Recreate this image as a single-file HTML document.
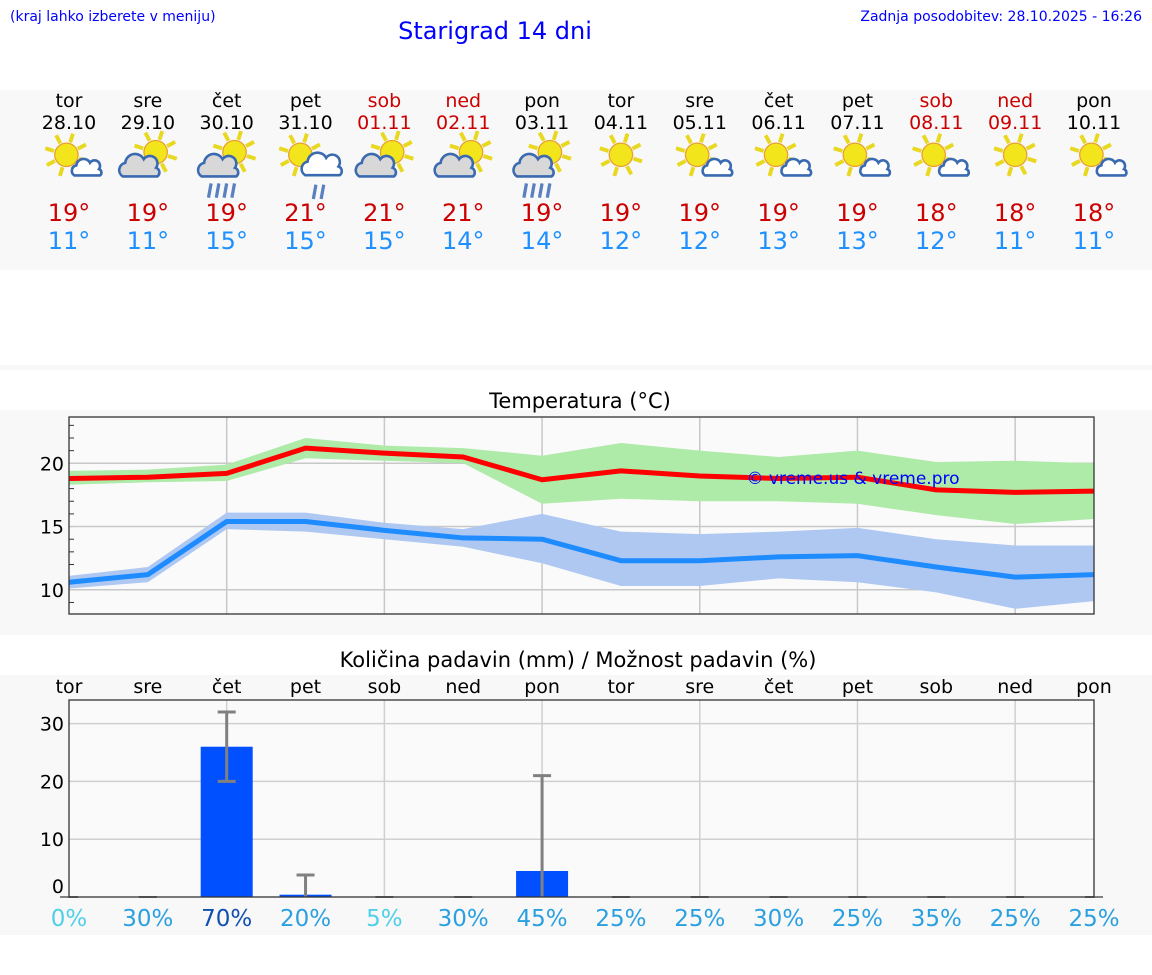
<!DOCTYPE html>
<html><head><meta charset="utf-8"><style>
body{margin:0;background:#fff;width:1152px;height:975px;overflow:hidden;font-family:"DejaVu Sans","Liberation Sans",sans-serif}
svg{display:block}
</style></head><body>
<svg id="s" width="1152" height="975" xmlns="http://www.w3.org/2000/svg" font-family="DejaVu Sans, Liberation Sans, sans-serif">
<rect x="0" y="90" width="1152" height="180" fill="#f8f8f8"/>
<rect x="0" y="365" width="1152" height="5" fill="#f8f8f8"/>
<rect x="0" y="410" width="1152" height="225" fill="#f8f8f8"/>
<rect x="0" y="675" width="1152" height="260" fill="#f8f8f8"/>
<text x="10" y="21" font-size="14" fill="#0000ff">(kraj lahko izberete v meniju)</text>
<text x="495" y="39" font-size="24" fill="#0000ff" text-anchor="middle">Starigrad 14 dni</text>
<text x="1142" y="21" font-size="14" fill="#0000ff" text-anchor="end">Zadnja posodobitev: 28.10.2025 - 16:26</text>
<text x="580" y="408" font-size="21" text-anchor="middle" fill="#000">Temperatura (°C)</text>
<text x="578" y="667" font-size="21" text-anchor="middle" fill="#000">Količina padavin (mm) / Možnost padavin (%)</text>
<g id="topband"></g><g id="temp"></g><g id="prec"></g>
</svg>
<script>
const days=["tor","sre","čet","pet","sob","ned","pon","tor","sre","čet","pet","sob","ned","pon"];
const dates=["28.10","29.10","30.10","31.10","01.11","02.11","03.11","04.11","05.11","06.11","07.11","08.11","09.11","10.11"];
const weekend=[0,0,0,0,1,1,0,0,0,0,0,1,1,0];
const icons=["A","B","C","D","B","B","C","E","A","A","A","A","E","A"];
const tmaxDay=[19,19,19,21,21,21,19,19,19,19,19,18,18,18];
const tminDay=[11,11,15,15,15,14,14,12,12,13,13,12,11,11];
const tmax=[18.8,18.9,19.2,21.2,20.8,20.5,18.7,19.4,19.0,18.8,18.9,17.9,17.7,17.8];
const tmaxHi=[19.4,19.5,19.9,22.0,21.4,21.2,20.6,21.6,21.0,20.5,21.0,20.1,20.2,20.0];
const tmaxLo=[18.3,18.5,18.6,20.4,20.2,20.0,16.8,17.2,17.0,17.0,16.8,15.9,15.2,15.6];
const tmin=[10.6,11.2,15.4,15.4,14.7,14.1,14.0,12.3,12.3,12.6,12.7,11.8,11.0,11.2];
const tminHi=[11.1,11.8,16.1,16.1,15.3,14.8,16.0,14.6,14.4,14.6,14.9,14.0,13.5,13.5];
const tminLo=[10.1,10.6,14.8,14.6,14.0,13.4,12.1,10.3,10.3,10.9,10.6,9.8,8.5,9.1];
const tempTicks=[10,15,20];
const precip=[0,0,26,0.4,0,0,4.5,0,0,0,0,0,0,0];
const precipHi=[0,0,32,3.8,0,0,21,0,0,0,0,0,0,0];
const precipLo=[0,0,20,0,0,0,0,0,0,0,0,0,0,0];
const precipTicks=[0,10,20,30];
const chance=[0,30,70,20,5,30,45,25,25,30,25,35,25,25];

const NS="http://www.w3.org/2000/svg";
function mk(p,t,a,txt){const e=document.createElementNS(NS,t);for(const k in a)e.setAttribute(k,a[k]);if(txt!==undefined)e.textContent=txt;p.appendChild(e);return e;}
const X0=69,X1=1094;
const xd=i=>X0+i*(X1-X0)/13;
const band0=document.getElementById('topband');
function sun(g,cx,cy){for(let k=0;k<8;k++){const a=k*Math.PI/4+0.3;mk(g,'line',{x1:cx+Math.cos(a)*10,y1:cy+Math.sin(a)*10,x2:cx+Math.cos(a)*17,y2:cy+Math.sin(a)*17,stroke:'#e8d820','stroke-width':3});}
mk(g,'circle',{cx:cx,cy:cy,r:9,fill:'#f2e51c',stroke:'#e8a030','stroke-width':1});}
function cloud(g,cx,cy,s,fill){mk(g,'path',{d:`M${cx-14*s} ${cy+7*s} a${6*s} ${6*s} 0 0 1 ${2*s} ${-11*s} a${8*s} ${8*s} 0 0 1 ${15*s} ${-3*s} a${6*s} ${6*s} 0 0 1 ${10*s} ${7*s} a${4*s} ${4*s} 0 0 1 ${1*s} ${7*s} z`,fill:fill,stroke:'#3a6ab0','stroke-width':2});}
function rain(g,cx,cy,n){for(let k=0;k<n;k++)mk(g,'line',{x1:cx+k*6,y1:cy,x2:cx+k*6-2,y2:cy+11,stroke:'#5a80c0','stroke-width':2.5});}
for(let i=0;i<14;i++){
  const cx=xd(i);
  const g=mk(band0,'g',{});
  
  
  const col=weekend[i]?'#cc0000':'#000';
  mk(g,'text',{x:cx,y:107,'font-size':19,'text-anchor':'middle',fill:col},days[i]);
  mk(g,'text',{x:cx,y:129,'font-size':19,'text-anchor':'middle',fill:col},dates[i]);
  const ic=mk(g,'g',{transform:`translate(${cx} 160) scale(1.3) translate(${-cx} -160)`});
  
  
  const t=icons[i];
  if(t=="A"){sun(ic,cx-2,156);cloud(ic,cx+14,167,0.7,'#fff');}
  else if(t=="B"){sun(ic,cx+6,154);cloud(ic,cx-6,166,0.95,'#d8d8d8');}
  else if(t=="C"){sun(ic,cx+6,154);cloud(ic,cx-6,166,0.95,'#d8d8d8');rain(ic,cx-12,178,4);}
  else if(t=="D"){sun(ic,cx-4,156);cloud(ic,cx+13,165,0.95,'#fff');rain(ic,cx+8,179,2);}
  else sun(ic,cx,156);
  mk(g,'text',{x:cx,y:221,'font-size':24,'text-anchor':'middle',fill:'#cc0000'},tmaxDay[i]+'°');
  mk(g,'text',{x:cx,y:249,'font-size':24,'text-anchor':'middle',fill:'#1e90ff'},tminDay[i]+'°');
}
const tg=document.getElementById('temp');
const TY=v=>463.3-(v-20)*12.65;
mk(tg,'rect',{x:69,y:417,width:1025,height:197,fill:'#fafafa'});
for(let v=9;v<=23;v++)mk(tg,'line',{x1:69,x2:74,y1:TY(v),y2:TY(v),stroke:'#333'});
tempTicks.forEach(v=>{mk(tg,'line',{x1:69,x2:1094,y1:TY(v),y2:TY(v),stroke:'#c8c8c8','stroke-width':1.5});mk(tg,'text',{x:64,y:TY(v)+7,'font-size':19,'text-anchor':'end'},v);});
for(let i=2;i<14;i+=2)mk(tg,'line',{x1:xd(i),x2:xd(i),y1:417,y2:614,stroke:'#c8c8c8','stroke-width':1.5});
function band(hi,lo,fill,name){let d='M'+hi.map((v,i)=>xd(i)+' '+TY(v)).join(' L')+' L'+lo.map((v,i)=>[i,v]).reverse().map(([i,v])=>xd(i)+' '+TY(v)).join(' L')+'Z';const p=mk(tg,'path',{d:d,fill:fill});}
function line(a,col,name){const p=mk(tg,'polyline',{points:a.map((v,i)=>xd(i)+','+TY(v)).join(' '),fill:'none',stroke:col,'stroke-width':5,'stroke-linejoin':'round'});}
band(tmaxHi,tmaxLo,'#aeeaa8','tmax-range');
band(tminHi,tminLo,'#afc8f2','tmin-range');
line(tmax,'#ff0000','tmax-line');
line(tmin,'#1e8cff','tmin-line');
mk(tg,'rect',{x:69,y:417,width:1025,height:197,fill:'none',stroke:'#333','stroke-width':1.3});
const wm=mk(tg,'text',{x:853,y:484,'font-size':17,'text-anchor':'middle',fill:'#0000ff'},'© vreme.us & vreme.pro');


const pg=document.getElementById('prec');
const PY=v=>897-v*5.78;
mk(pg,'rect',{x:69,y:700,width:1025,height:197,fill:'#fafafa'});
precipTicks.forEach(v=>{if(v>0)mk(pg,'line',{x1:69,x2:1094,y1:PY(v),y2:PY(v),stroke:'#d0d0d0','stroke-width':1.5});mk(pg,'text',{x:64,y:v==0?PY(v)-4:PY(v)+7,'font-size':19,'text-anchor':'end'},v);});
for(let i=2;i<14;i+=2)mk(pg,'line',{x1:xd(i),x2:xd(i),y1:700,y2:897,stroke:'#d0d0d0','stroke-width':1.5});
for(let i=0;i<14;i++){
  mk(pg,'text',{x:xd(i),y:693,'font-size':19,'text-anchor':'middle'},days[i]);
  const h=Math.max(precip[i]*5.78,0);
  if(precip[i]>0){const b=mk(pg,'rect',{x:xd(i)-26,y:PY(precip[i]),width:52,height:h,fill:'#0050ff'});
    
    }
  if(precipHi[i]>0){const e=mk(pg,'g',{});
    
    
    mk(e,'line',{x1:xd(i),x2:xd(i),y1:PY(precipHi[i]),y2:PY(precipLo[i]),stroke:'#808080','stroke-width':3});
    mk(e,'line',{x1:xd(i)-9,x2:xd(i)+9,y1:PY(precipHi[i]),y2:PY(precipHi[i]),stroke:'#808080','stroke-width':3});
    if(precipLo[i]>0)mk(e,'line',{x1:xd(i)-9,x2:xd(i)+9,y1:PY(precipLo[i]),y2:PY(precipLo[i]),stroke:'#808080','stroke-width':3});}
  else mk(pg,'line',{x1:xd(i)-9,x2:xd(i)+9,y1:897,y2:897,stroke:'#808080','stroke-width':2});
  const c=chance[i];const col=c<=5?'#50d0e8':c>=70?'#1050b0':'#2aa0e0';
  const t=mk(pg,'text',{x:xd(i),y:926,'font-size':23,'text-anchor':'middle',fill:col},c+'%');
  
  
}
mk(pg,'rect',{x:69,y:700,width:1025,height:197,fill:'none',stroke:'#333','stroke-width':1.3});
</script>
</body></html>
